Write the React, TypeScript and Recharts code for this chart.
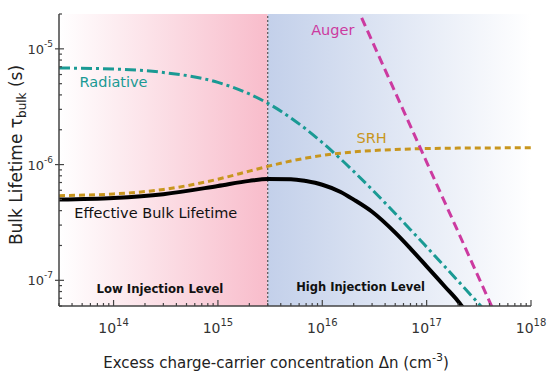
import React from 'react';
import {
  LineChart,
  Line,
  XAxis,
  YAxis,
  ReferenceArea,
  ReferenceLine,
  ReferenceDot,
} from 'recharts';

// excess carrier density (cm^-3) sample points
const xGrid = [3e13, 1e14, 3e14, 1e15, 2e15, 3e15, 5e15, 7e15, 1e16, 1.5e16, 2e16, 3e16, 5e16, 7e16, 1e17, 1.5e17, 2e17];

const radiative = [6.83e-6, 6.69e-6, 6.25e-6, 5.13e-6, 4.08e-6, 3.39e-6, 2.53e-6, 2.02e-6, 1.55e-6, 1.117e-6, 8.73e-7, 6.08e-7, 3.78e-7, 2.74e-7, 1.94e-7, 1.308e-7, 9.86e-8];
const radiativeTailX = [3.4e17, 4e17];
const radiativeTail = [5.83e-8, 4.96e-8];

const srh = [5.39e-7, 5.58e-7, 6.09e-7, 7.48e-7, 8.78e-7, 9.65e-7, 1.074e-6, 1.139e-6, 1.199e-6, 1.255e-6, 1.287e-6, 1.321e-6, 1.35e-6, 1.364e-6, 1.375e-6, 1.383e-6, 1.388e-6];
const srhTailX = [3e17, 1e18];
const srhTail = [1.391e-6, 1.397e-6];

const effective = [4.996e-7, 5.15e-7, 5.55e-7, 6.53e-7, 7.23e-7, 7.5e-7, 7.48e-7, 7.2e-7, 6.7e-7, 5.8e-7, 4.98e-7, 3.91e-7, 2.58e-7, 1.88e-7, 1.32e-7, 8.8e-8, 6.6e-8];
const effectiveTailX = [2.3e17, 2.5e17];
const effectiveTail = [5.6e-8, 5.1e-8];

const augerX = [2.1e16, 5e16, 1e17, 2e17, 4.6e17];
const auger = [2.39e-5, 4.21e-6, 1.05e-6, 2.63e-7, 4.97e-8];

const xMajor = [1e14, 1e15, 1e16, 1e17, 1e18];
const yMajor = [1e-7, 1e-6, 1e-5];
const xDomain = [3e13, 1e18];
const yDomain = [6e-8, 2e-5];
const injectionBoundary = 3e15;

const minorTicks = (from: number, to: number, lo: number, hi: number) => {
  const out: number[] = [];
  for (let e = from; e <= to; e++) {
    for (let m = 1; m <= 9; m++) {
      const v = Number((m * Math.pow(10, e)).toPrecision(3));
      if (v >= lo && v <= hi) out.push(v);
    }
  }
  return out;
};
const xTicks = minorTicks(13, 18, xDomain[0], xDomain[1]);
const yTicks = minorTicks(-8, -5, yDomain[0], yDomain[1]);

const pairUp = (xs: number[], ys: number[]) => xs.map((x, i) => ({ x, y: ys[i] }));
const radiativeData = pairUp([...xGrid, ...radiativeTailX], [...radiative, ...radiativeTail]);
const srhData = pairUp([...xGrid, ...srhTailX], [...srh, ...srhTail]);
const effectiveData = pairUp([...xGrid, ...effectiveTailX], [...effective, ...effectiveTail]);
const augerData = pairUp(augerX, auger);

const AXIS = '#444';
const TEAL = '#1a9a94';
const MAGENTA = '#cc3aa0';
const GOLD = '#c8961e';
const FONT = "'DejaVu Sans', Verdana, sans-serif";

const isMajor = (list: number[], v: number) => list.some((m) => Math.abs(m - v) / m < 1e-6);
const expOf = (v: number) => Math.round(Math.log10(v));

const BottomTick = (props: any) => {
  const { x, y, payload } = props;
  const major = isMajor(xMajor, payload.value);
  return (
    <g>
      <line x1={x} x2={x} y1={y} y2={y - (major ? 6 : 3)} stroke={AXIS} strokeWidth={1.2} />
      {major && (
        <text x={x} y={y + 27} textAnchor="middle" fontSize={14} fill="#333">
          <tspan>10</tspan>
          <tspan dy={-7} fontSize={10}>{expOf(payload.value)}</tspan>
        </text>
      )}
    </g>
  );
};

const TopTick = (props: any) => {
  const { x, y, payload } = props;
  const major = isMajor(xMajor, payload.value);
  return <line x1={x} x2={x} y1={y} y2={y + (major ? 6 : 3)} stroke={AXIS} strokeWidth={1.2} />;
};

const LeftTick = (props: any) => {
  const { x, y, payload } = props;
  const major = isMajor(yMajor, payload.value);
  return (
    <g>
      <line x1={major ? x - 4 : x} x2={x + (major ? 5 : 3)} y1={y} y2={y} stroke={AXIS} strokeWidth={1.2} />
      {major && (
        <text x={x - 6} y={y + 5} textAnchor="end" fontSize={13} fill="#333">
          <tspan>10</tspan>
          <tspan dy={-7} fontSize={9}>{`-${Math.abs(expOf(payload.value))}`}</tspan>
        </text>
      )}
    </g>
  );
};

const RightTick = (props: any) => {
  const { x, y, payload } = props;
  const major = isMajor(yMajor, payload.value);
  return <line x1={x} x2={x - (major ? 6 : 3)} y1={y} y2={y} stroke={AXIS} strokeWidth={1.2} />;
};

const XTitle = (props: any) => {
  const { viewBox } = props;
  return (
    <text x={viewBox.x + viewBox.width / 2 - 19} y={viewBox.y + 62} textAnchor="middle" fontSize={15} fill="#222">
      <tspan>Excess charge-carrier concentration Δn (cm</tspan>
      <tspan dy={-7} fontSize={11}>-3</tspan>
      <tspan dy={7}>)</tspan>
    </text>
  );
};

const YTitle = (props: any) => {
  const { viewBox } = props;
  const cy = viewBox.y + viewBox.height / 2 - 5;
  return (
    <text x={22} y={cy} transform={`rotate(-90 22 ${cy})`} textAnchor="middle" fontSize={17} fill="#222">
      <tspan>Bulk Lifetime τ</tspan>
      <tspan dy={4} fontSize={12}>bulk</tspan>
      <tspan dy={-4}> (s)</tspan>
    </text>
  );
};

const note = (value: string, fill: string, fontSize = 14.5, fontWeight = 'normal') => ({
  value,
  position: 'center' as const,
  fill,
  fontSize,
  fontWeight,
});

export default function App() {
  return (
    <div style={{ position: 'absolute', left: 0, top: 0, width: 550, height: 377, background: '#fff' }}>
      <LineChart
        width={550}
        height={377}
        margin={{ top: 14, right: 19, left: 0, bottom: 0 }}
        style={{ fontFamily: FONT }}
      >
        <defs>
          <linearGradient id="lowGrad" x1="0" y1="0" x2="1" y2="0">
            <stop offset="0%" stopColor="#ffffff" />
            <stop offset="100%" stopColor="#f8bccb" />
          </linearGradient>
          <linearGradient id="highGrad" x1="0" y1="0" x2="1" y2="0">
            <stop offset="0%" stopColor="#c3d0ea" />
            <stop offset="100%" stopColor="#ffffff" />
          </linearGradient>
        </defs>
        <XAxis
          dataKey="x"
          type="number"
          scale="log"
          domain={xDomain}
          allowDataOverflow
          ticks={xTicks}
          interval={0}
          tick={<BottomTick />}
          tickLine={false}
          tickSize={0}
          tickMargin={0}
          height={71}
          axisLine={{ stroke: AXIS, strokeWidth: 1.5 }}
          label={{ content: <XTitle /> }}
        />
        <XAxis
          xAxisId="top"
          orientation="top"
          type="number"
          scale="log"
          domain={xDomain}
          allowDataOverflow
          ticks={xTicks}
          interval={0}
          tick={<TopTick />}
          tickLine={false}
          tickSize={0}
          tickMargin={0}
          height={0}
          axisLine={{ stroke: AXIS, strokeWidth: 1.5 }}
        />
        <YAxis
          type="number"
          scale="log"
          domain={yDomain}
          allowDataOverflow
          ticks={yTicks}
          interval={0}
          tick={<LeftTick />}
          tickLine={false}
          tickSize={0}
          tickMargin={0}
          width={59}
          axisLine={{ stroke: AXIS, strokeWidth: 1.5 }}
          label={{ content: <YTitle /> }}
        />
        <YAxis
          yAxisId="right"
          orientation="right"
          type="number"
          scale="log"
          domain={yDomain}
          allowDataOverflow
          ticks={yTicks}
          interval={0}
          tick={<RightTick />}
          tickLine={false}
          tickSize={0}
          tickMargin={0}
          width={0}
          axisLine={{ stroke: AXIS, strokeWidth: 1.5 }}
        />
        <ReferenceArea x1={xDomain[0]} x2={injectionBoundary} fill="url(#lowGrad)" fillOpacity={1} stroke="none" />
        <ReferenceArea x1={injectionBoundary} x2={xDomain[1]} fill="url(#highGrad)" fillOpacity={1} stroke="none" />
        <ReferenceLine x={injectionBoundary} stroke="#555" strokeWidth={1.2} strokeDasharray="2 2" />

        <Line data={srhData} dataKey="y" type="monotone" stroke={GOLD} strokeWidth={3} strokeDasharray="6 4" dot={false} isAnimationActive={false} />
        <Line data={radiativeData} dataKey="y" type="monotone" stroke={TEAL} strokeWidth={3} strokeDasharray="11 4 3 4" dot={false} isAnimationActive={false} />
        <Line data={augerData} dataKey="y" type="linear" stroke={MAGENTA} strokeWidth={3} strokeDasharray="9 5" dot={false} isAnimationActive={false} />
        <Line data={effectiveData} dataKey="y" type="monotone" stroke="#000" strokeWidth={4} dot={false} isAnimationActive={false} />

        <ReferenceDot x={1e14} y={5.2e-6} r={0} stroke="none" label={note('Radiative', TEAL)} />
        <ReferenceDot x={1.26e16} y={1.46e-5} r={0} stroke="none" label={note('Auger', MAGENTA)} />
        <ReferenceDot x={2.97e16} y={1.71e-6} r={0} stroke="none" label={note('SRH', GOLD)} />
        <ReferenceDot x={2.54e14} y={3.86e-7} r={0} stroke="none" label={note('Effective Bulk Lifetime', '#111')} />
        <ReferenceDot x={2.78e14} y={8.36e-8} r={0} stroke="none" label={note('Low Injection Level', '#111', 11.7, 'bold')} />
        <ReferenceDot x={2.33e16} y={8.7e-8} r={0} stroke="none" label={note('High Injection Level', '#111', 11.5, 'bold')} />
      </LineChart>
    </div>
  );
}
